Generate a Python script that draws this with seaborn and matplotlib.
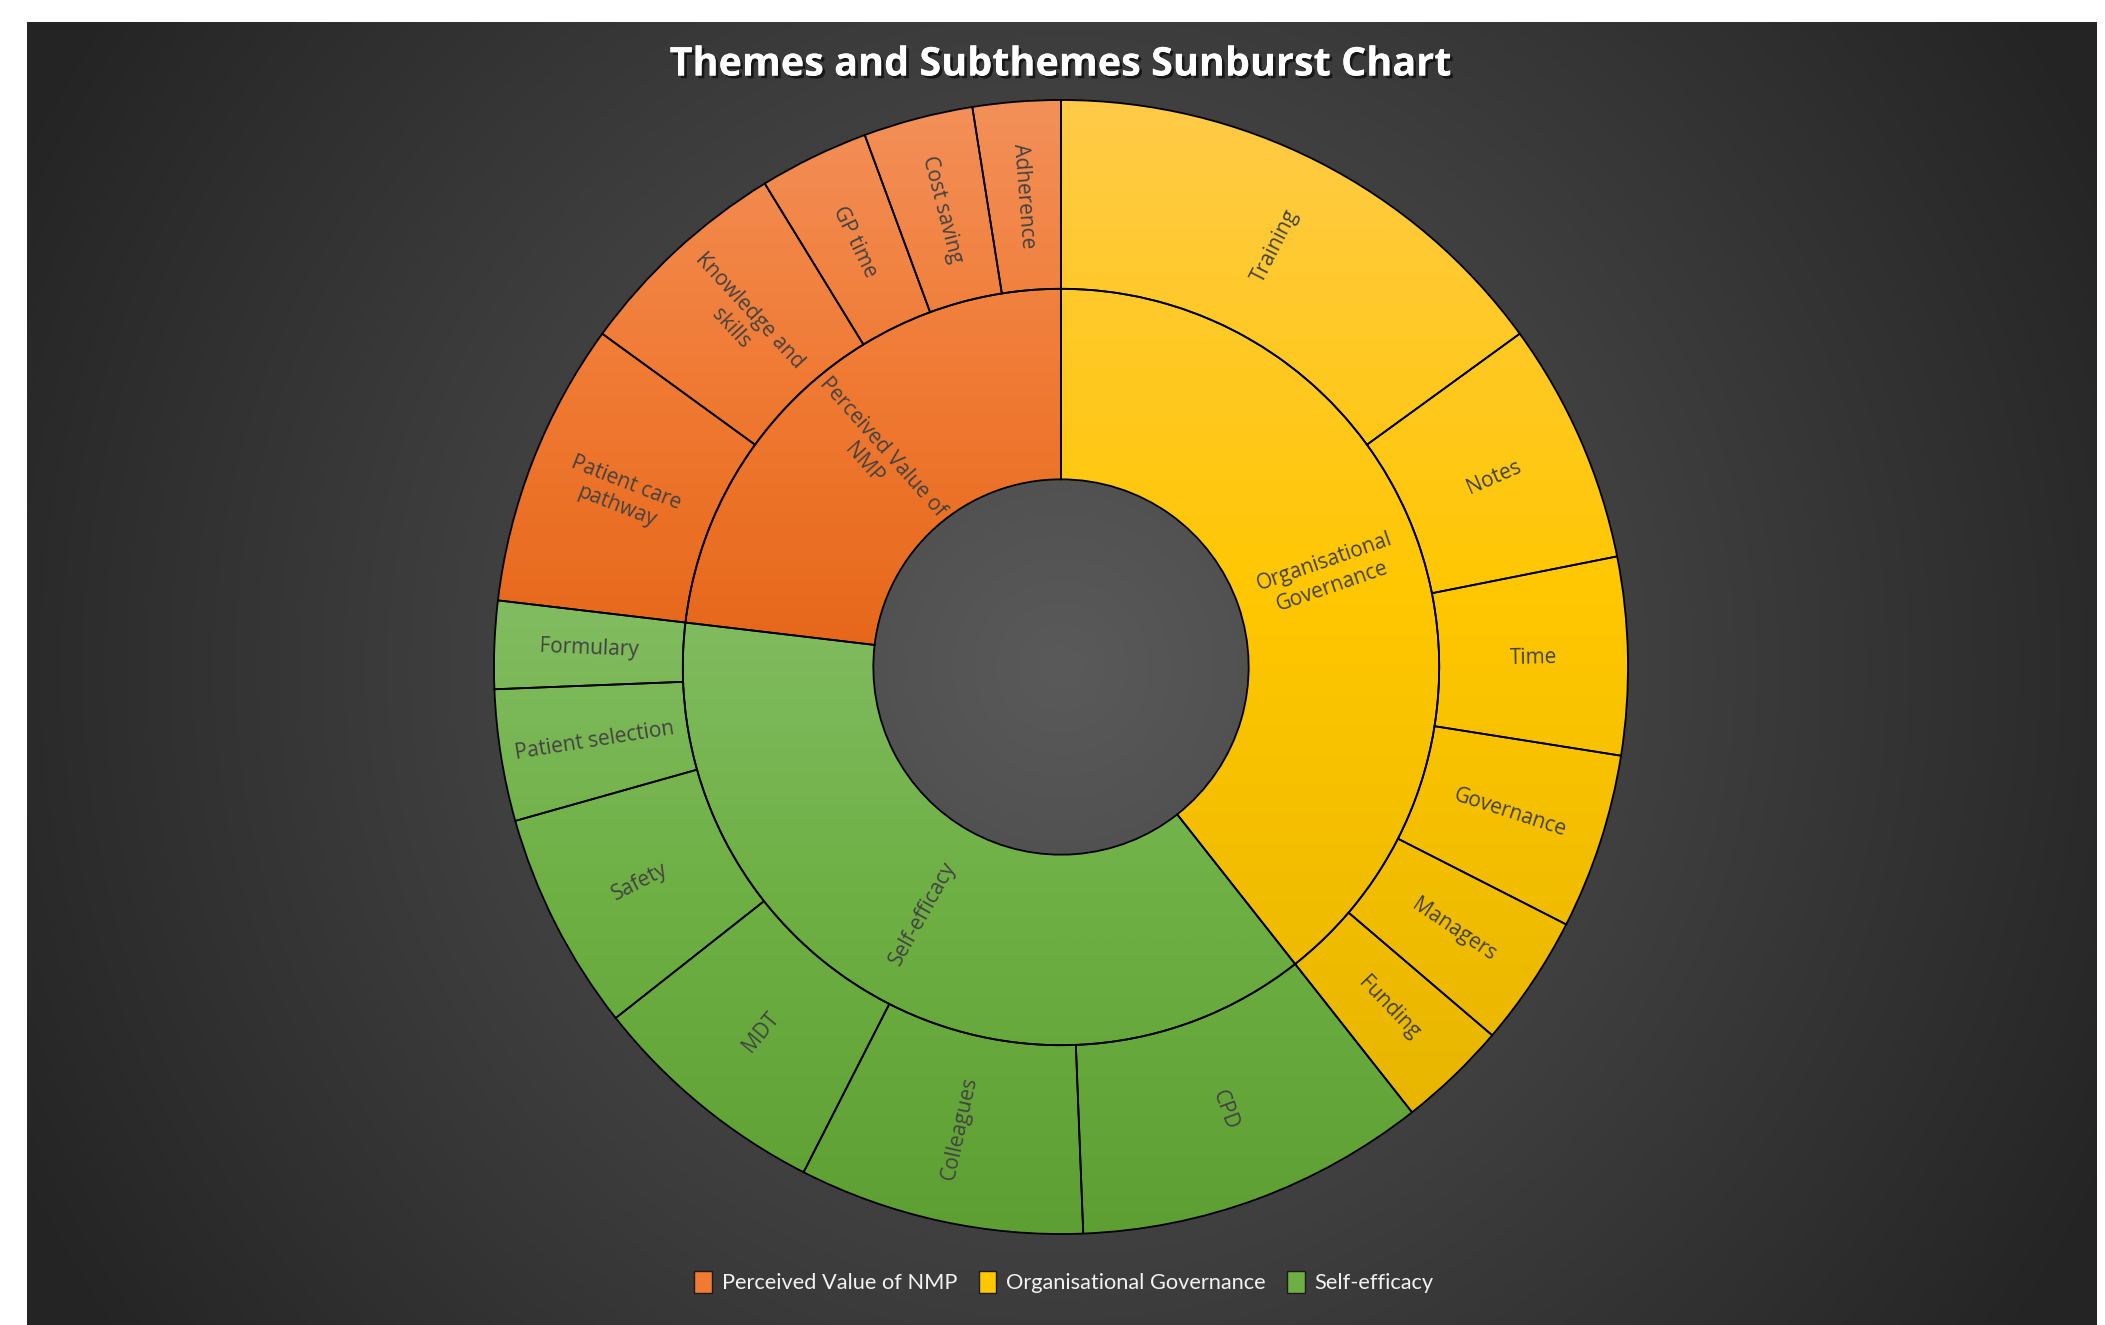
import numpy as np
import matplotlib
matplotlib.use("Agg")
import matplotlib.pyplot as plt
import matplotlib.patheffects as pe
from matplotlib.patches import Patch
import seaborn as sns

# ---------------- data ----------------
themes = ["Organisational Governance", "Self-efficacy", "Perceived Value of NMP"]
theme_labels = ["Organisational\nGovernance", "Self-efficacy", "Perceived Value of\nNMP"]

og_subthemes = ["Training", "Notes", "Time", "Governance", "Managers", "Funding"]
og_values = [24, 11, 9, 8, 6, 5]

se_subthemes = ["CPD", "Colleagues", "MDT", "Safety", "Patient selection", "Formulary"]
se_values = [16, 13, 11, 10, 6, 4]

pv_subthemes = ["Patient care\npathway", "Knowledge and\nskills", "GP time", "Cost saving", "Adherence"]
pv_values = [13, 10, 5, 5, 4]

legend_order = ["Perceived Value of NMP", "Organisational Governance", "Self-efficacy"]
title = "Themes and Subthemes Sunburst Chart"

# ---------------- style ----------------
sns.set_style("white")
plt.rcParams["font.family"] = ["Open Sans", "DejaVu Sans"]

theme_colors = {
    "Organisational Governance": ("#FFCB48", "#FFC700", "#E8B600"),
    "Self-efficacy": ("#82BC61", "#6DAF42", "#5E9F34"),
    "Perceived Value of NMP": ("#F39059", "#F07A33", "#E66619"),
}

W, H = 2105, 1325
fig = plt.figure(figsize=(W / 100, H / 100), dpi=100)
fig.patch.set_facecolor("white")

# background panel with radial gradient
px0, px1, py0 = 27, 2097, 22
bg = fig.add_axes([px0 / W, 0, (px1 - px0) / W, (H - py0) / H])
bg.axis("off")
cx, cy = 1061, 667
gy, gx = np.mgrid[py0:H, px0:px1]
d = np.hypot(gx - cx, gy - cy)
val = np.clip(90 - 0.046 * d, 36, 90) / 255.0
bg.imshow(np.dstack([val, val, val]), aspect="auto", interpolation="bilinear",
          extent=(0, 1, 0, 1))
bg.set_xlim(0, 1)
bg.set_ylim(0, 1)

# sunburst axes
R = 567
ax = fig.add_axes([(cx - R) / W, 1 - (cy + R) / H, 2 * R / W, 2 * R / H])
ax.axis("off")

r_out, r_mid, r_in = 1.0, 0.667, 0.331
theme_values = [sum(og_values), sum(se_values), sum(pv_values)]
sub_labels = og_subthemes + se_subthemes + pv_subthemes
sub_values = og_values + se_values + pv_values
sub_theme = ([themes[0]] * len(og_values) + [themes[1]] * len(se_values)
             + [themes[2]] * len(pv_values))

wp = dict(edgecolor="black", linewidth=1.3)
inner, _ = ax.pie(theme_values, radius=r_mid, startangle=90, counterclock=False,
                  colors=[theme_colors[t][1] for t in themes],
                  wedgeprops=dict(width=r_mid - r_in, **wp))
outer, _ = ax.pie(sub_values, radius=r_out, startangle=90, counterclock=False,
                  colors=[theme_colors[t][1] for t in sub_theme],
                  wedgeprops=dict(width=r_out - r_mid, **wp))

# gradient fills (per theme vertical extent)
ext = {}
for w, t in list(zip(inner, themes)) + list(zip(outer, sub_theme)):
    ys = w.get_path().vertices[:, 1]
    lo, hi = ext.get(t, (np.inf, -np.inf))
    ext[t] = (min(lo, ys.min()), max(hi, ys.max()))

grads = {}
for t in themes:
    light, mid, dark = theme_colors[t]
    pal = sns.blend_palette([light, mid, dark], n_colors=256)
    grads[t] = np.array(pal)[:, None, :]

for w, t in list(zip(inner, themes)) + list(zip(outer, sub_theme)):
    lo, hi = ext[t]
    im = ax.imshow(grads[t], extent=(-1, 1, lo, hi), aspect="auto",
                   interpolation="bilinear", zorder=2)
    im.set_clip_path(w)
    w.set_facecolor("none")
    w.set_zorder(3)

ax.set_xlim(-1, 1)
ax.set_ylim(-1, 1)


def label(w, text, r):
    ang = (w.theta1 + w.theta2) / 2.0
    x, y = r * np.cos(np.radians(ang)), r * np.sin(np.radians(ang))
    rot = ((ang + 90) % 180) - 90
    ax.text(x, y, text, rotation=rot, rotation_mode="anchor", ha="center",
            va="center", multialignment="center", fontsize=15,
            color="#424242", linespacing=1.3, zorder=4)


for w, t in zip(inner, theme_labels):
    label(w, t, (r_in + r_mid) / 2)
for w, t in zip(outer, sub_labels):
    label(w, t, (r_mid + r_out) / 2)

# title
fig.text(1061 / W, 1 - 65 / H, title, ha="center", va="center", fontsize=28.5,
         fontweight="bold", color="white",
         path_effects=[pe.withSimplePatchShadow(offset=(2, -2), shadow_rgbFace="black", alpha=0.6),
                       pe.Normal()])

# legend
handles = [Patch(facecolor=theme_colors[t][1], edgecolor="#1a1a1a", linewidth=1.0)
           for t in legend_order]
leg = fig.legend(handles, legend_order, loc="center", bbox_to_anchor=(1064 / W, 1 - 1282 / H),
                 ncol=3, frameon=False, handlelength=0.8, handleheight=1.15,
                 handletextpad=0.45, columnspacing=1.0,
                 prop={"family": "Lato", "size": 15.7})
for txt in leg.get_texts():
    txt.set_color("#F2F2F2")

fig.savefig("out.png", dpi=100, facecolor=fig.get_facecolor())
